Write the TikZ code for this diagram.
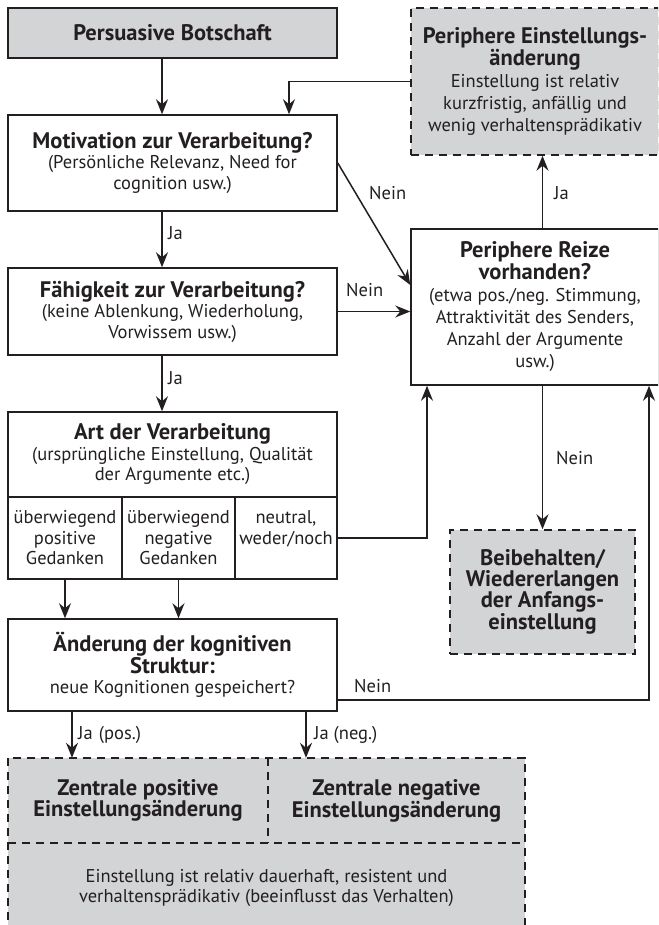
\documentclass[tikz,border=0pt]{standalone}
\usepackage{fontspec}
\setmainfont{PT Sans}
\usetikzlibrary{arrows.meta,positioning}
\definecolor{boxgray}{RGB}{211,212,214}
\definecolor{ink}{RGB}{35,31,32}
\newcommand{\ttl}[1]{{\fontsize{22.5}{25}\selectfont\bfseries #1}}

\begin{document}
\begin{tikzpicture}[x=1pt, y=-1pt,
    every node/.style={text=ink, font=\fontsize{18.5}{20.5}\selectfont},
    box/.style={draw=ink, line width=1.5pt, align=center, inner sep=0pt},
    endbox/.style={box, fill=boxgray, dash pattern=on 8pt off 6pt},
    wide/.style={font=\fontsize{18.5}{22}\selectfont},
    cell/.style={box, minimum height=82},
    lbl/.style={anchor=west, inner sep=0pt},
    arr/.style={draw=ink, line width=1.5pt, -{Stealth[length=15pt, width=12pt, inset=5pt]}},
    dashline/.style={draw=ink, line width=1.5pt, dash pattern=on 8pt off 6pt},
  ]
    \useasboundingbox (0,0) rectangle (658,925);
    \clip (0,0) rectangle (658,925);

    \coordinate (spine) at (162,0);
    \coordinate (back) at (289,0);
    \coordinate (up) at (427,0);
    \coordinate (nr) at (649,700);

    % left column
    \node[box, fill=boxgray, minimum width=329, minimum height=50] (msg) at (172.5,33) {\ttl{Persuasive Botschaft}};
    \node[box, minimum width=329, minimum height=96] (mot) at (172.5,163)
      {\ttl{Motivation zur Verarbeitung?}\\(Persönliche Relevanz, Need for\\cognition usw.)};
    \node[box, minimum width=329, minimum height=87] (fah) at (172.5,311.5)
      {\ttl{Fähigkeit zur Verarbeitung?}\\(keine Ablenkung, Wiederholung,\\Vorwissem usw.)};
    \node[box, minimum width=329, minimum height=85] (art) at (172.5,454.5)
      {\ttl{Art der Verarbeitung}\\(ursprüngliche Einstellung, Qualität\\der Argumente etc.)};
    \node[cell, minimum width=114] (c1) at (65,538) {überwiegend\\positive\\Gedanken};
    \node[cell, minimum width=113] (c2) at (178.5,538) {überwiegend\\negative\\Gedanken};
    \node[cell, minimum width=102] (c3) at (286,538) {neutral,\\weder/noch\\~};
    \node[box, minimum width=329, minimum height=92] (aend) at (172.5,665)
      {\ttl{Änderung der kognitiven}\\\ttl{Struktur:}\\neue Kognitionen gespeichert?};

    % right column
    \node[endbox, wide, minimum width=248, minimum height=147] (peri) at (535,81.5)
      {\ttl{Periphere Einstellungs-}\\\ttl{änderung}\\Einstellung ist relativ\\kurzfristig, anfällig und\\wenig verhaltensprädikativ};
    \node[box, wide, minimum width=248, minimum height=156] (reiz) at (535,307)
      {\ttl{Periphere Reize}\\\ttl{vorhanden?}\\(etwa pos./neg. Stimmung,\\Attraktivität des Senders,\\Anzahl der Argumente\\usw.)};
    \node[endbox, minimum width=185, minimum height=124] (beib) at (542.5,592)
      {\ttl{Beibehalten/}\\\ttl{Wiedererlangen}\\\ttl{der Anfangs-}\\\ttl{einstellung}};

    % central outcome
    \node[fill=boxgray, align=center, minimum width=260, minimum height=85] (zpos) at (138,800.5)
      {\ttl{Zentrale positive}\\\ttl{Einstellungsänderung}};
    \node[fill=boxgray, align=center, minimum width=257, minimum height=85] (zneg) at (396.5,800.5)
      {\ttl{Zentrale negative}\\\ttl{Einstellungsänderung}};
    \node[fill=boxgray, align=center, minimum width=517, minimum height=90] (zrest) at (266.5,888)
      {Einstellung ist relativ dauerhaft, resistent und\\verhaltensprädikativ (beeinflusst das Verhalten)};
    \draw[dashline] (zpos.north west) rectangle (zrest.south east);
    \draw[dashline] (zpos.south west) -- (zneg.south east);
    \draw[dashline] (zpos.north east) -- (zpos.south east);

    % arrows
    \draw[arr] (msg.south -| spine) -- (mot.north -| spine);
    \draw[arr] (peri.west) -| (mot.north -| back);
    \draw[arr] (mot.south -| spine) -- (fah.north -| spine);
    \draw[arr] (fah.south -| spine) -- (art.north -| spine);
    \draw[arr] (mot.east) -- (reiz.170);
    \draw[arr] (fah.east) -- (fah.east -| reiz.west);
    \draw[arr] (c3.east) -| (reiz.south -| up);
    \draw[arr] (c1.south) -- (c1.south |- aend.north);
    \draw[arr] (c2.south) -- (c2.south |- aend.north);
    \draw[arr] (aend.east |- nr) -- (nr) -- (reiz.south -| nr);
    \draw[arr] (reiz.north -| beib) -- (peri.south -| beib);
    \draw[arr] (reiz.south -| beib) -- (beib.north);
    \draw[arr] (aend.south -| 72,0) -- (zpos.north -| 72,0);
    \draw[arr] (aend.south -| 306,0) -- (zneg.north -| 306,0);

    % labels
    \node[lbl] (l1) at (168,233) {Ja};
    \node[lbl] (l2) at (168,378) {Ja};
    \node[lbl] (l3) at (369,193) {Nein};
    \node[lbl] (l4) at (346,290) {Nein};
    \node[lbl] (l5) at (554,193) {Ja};
    \node[lbl] (l6) at (556,458) {Nein};
    \node[lbl] (l7) at (354,686) {Nein};
    \node[lbl] (l8) at (78,735) {Ja\,\,(pos.)};
    \node[lbl] (l9) at (314,735) {Ja (neg.)};
\end{tikzpicture}
\end{document}
